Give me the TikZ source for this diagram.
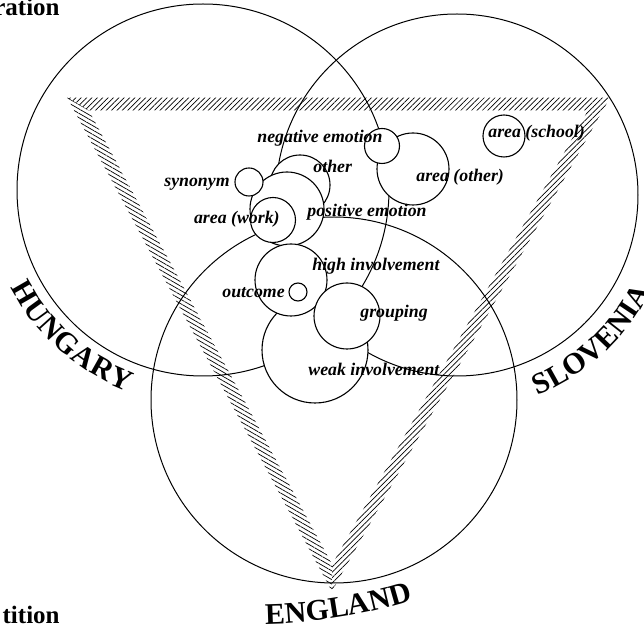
\documentclass[tikz,border=0pt]{standalone}
\usepackage{fontspec}
\setmainfont{Liberation Serif}
\usetikzlibrary{calc, patterns.meta, decorations.text}

\tikzset{
  country/.style={draw, line width=0.5pt},
  bubble/.style={draw, fill=white, line width=0.55pt},
  lbl/.style={anchor=base west, inner sep=0pt, font=\fontsize{8.9}{10}\selectfont\bfseries\itshape},
  title/.style={anchor=base east, inner sep=0pt, font=\fontsize{12.5}{15}\selectfont\bfseries},
  hatchne/.style={pattern={Lines[angle=45, distance=1.9pt, line width=0.35pt]}},
  hatchnw/.style={pattern={Lines[angle=-30, distance=1.9pt, line width=0.35pt]}},
}
\newcommand{\ctryfont}{\bfseries\fontsize{15}{18}\selectfont}

\begin{document}
\begin{tikzpicture}[x=0.5pt, y=-0.5pt]
\useasboundingbox (0,0) rectangle (644,625);

% the three country circles
\coordinate (hu) at (203,190);
\coordinate (sl) at (457,195);
\coordinate (en) at (334,400);
\draw[country] (hu) circle[radius=186];
\draw[country] (sl) circle[radius=181];
\draw[country] (en) circle[radius=183];

% hatched triangle
\coordinate (tl) at (78,104);
\coordinate (tr) at (599,104);
\coordinate (bt) at (332,578);
\coordinate (ic) at (335.5,258.4);
\foreach \v in {tl,tr,bt} {
  \coordinate (o\v) at ($(ic)!1.042!(\v)$);
  \coordinate (i\v) at ($(ic)!0.958!(\v)$);
}
\fill[hatchne] (otl) -- (otr) -- (itr) -- (itl) -- cycle;
\fill[hatchne] (otr) -- (obt) -- (ibt) -- (itr) -- cycle;
\fill[hatchnw] (obt) -- (otl) -- (itl) -- (ibt) -- cycle;

% bubbles, back to front
\draw[bubble] (300,185) circle[radius=30];
\draw[bubble] (287,209) circle[radius=37];
\draw[bubble] (249,182) circle[radius=14];
\draw[bubble] (273,220) circle[radius=22.5];
\draw[bubble] (413,169) circle[radius=36];
\draw[bubble] (382,146) circle[radius=17.5];
\draw[bubble] (504,136) circle[radius=21];
\draw[bubble] (315,350) circle[radius=53];
\draw[bubble] (291,280) circle[radius=36];
\draw[bubble] (298,292) circle[radius=9];
\draw[bubble] (347,316) circle[radius=33];

% bubble labels
\node[lbl] (negemo) at (257,143) {negative emotion};
\node[lbl] (other) at (313,173) {other};
\node[lbl, anchor=base east] (syn) at (230,187) {synonym};
\node[lbl, anchor=base east] (work) at (280,224) {area (work)};
\node[lbl] (posemo) at (307,217) {positive emotion};
\node[lbl] (areaoth) at (416,182) {area (other)};
\node[lbl] (school) at (488,138) {area (school)};
\node[lbl] (highinv) at (312,271) {high involvement};
\node[lbl] (outcome) at (222,298) {outcome};
\node[lbl] (group) at (360,318) {grouping};
\node[lbl] (weakinv) at (308,376) {weak involvement};

% country names along arcs
\path[decorate, decoration={text along path, text={|\ctryfont|HUNGARY}, text align={fit to path}}]
  (hu) ++(153.2:215) arc[start angle=153.2, end angle=110.5, radius=215];
\path[decorate, decoration={text along path, text={|\ctryfont|SLOVENIA}, text align={fit to path}}]
  (sl) ++(68:216) arc[start angle=68, end angle=27.5, radius=216];
\path[decorate, decoration={text along path, text={|\ctryfont|ENGLAND}, text align={fit to path}}]
  (257,95) ++(89.1:529) arc[start angle=89.1, end angle=73.9, radius=529];

% cut-off titles at the left edge
\node[title] (ttop) at (60,16) {ration};
\node[title] (tbot) at (60,624) {tition};
\end{tikzpicture}
\end{document}
